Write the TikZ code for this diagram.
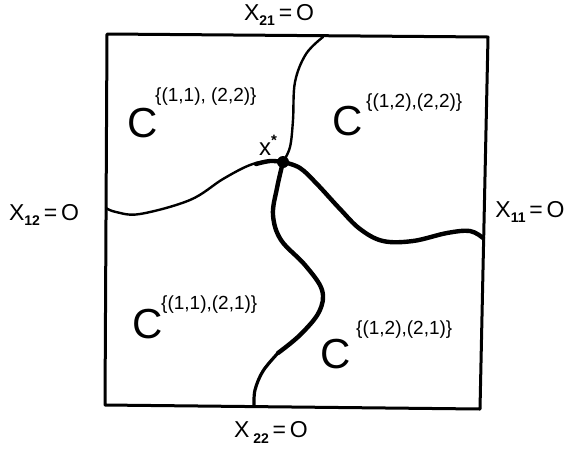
\documentclass[tikz,border=0pt]{standalone}
\usepackage{fontspec}
\setmainfont{Liberation Sans}
\tikzset{
  frame/.style={line width=3pt, line join=round, line cap=round},
  thinb/.style={line width=2.4pt, line cap=round},
  boldb/.style={line width=4.4pt, line cap=round},
  axlabel/.style={inner sep=0pt, font=\fontsize{23}{23}\selectfont},
  bigc/.style={inner sep=0pt, anchor=south west, font=\fontsize{42}{42}\selectfont},
  supc/.style={inner sep=0pt, anchor=west, font=\fontsize{19}{19}\selectfont},
}
\begin{document}
\begin{tikzpicture}[x=1pt,y=-1pt]
\useasboundingbox (0,0) rectangle (567,448);
% frame corners
\coordinate (tl) at (107,34);
\coordinate (tr) at (488,37);
\coordinate (br) at (480,409);
\coordinate (bl) at (105,405);
\draw[frame] (tl) -- (tr) -- (br) -- (bl) -- cycle;
% boundary ends
\coordinate (xs) at (283,162);
\coordinate (etop) at (323,37);
\coordinate (eleft) at (106,208);
\coordinate (eright) at (483,238);
\coordinate (ebot) at (254,406);
% thin curves
\draw[thinb] plot[smooth, tension=0.6] coordinates {(eleft) (116,212) (140,214) (190,200) (223,179) (250,165) (270,161) (xs)};
\draw[boldb] plot[smooth, tension=0.6] coordinates {(256,164) (270,161) (xs)};
\draw[thinb] plot[smooth, tension=0.6] coordinates {(xs) (290,147) (293,120) (295,82) (306,54) (etop)};
% bold curves
\draw[boldb] plot[smooth, tension=0.6] coordinates {(xs) (300,168) (317,184) (340,209) (360,229) (383,241) (413,241) (447,233) (470,231) (eright)};
\draw[boldb] plot[smooth, tension=0.6] coordinates {(xs) (277,188) (273,215) (281,240) (305,265) (322,290) (319,312) (300,335) (278,353)};
\draw[line width=3.2pt, line cap=round] plot[smooth, tension=0.6] coordinates {(278,353) (263,371) (255,390) (ebot)};
\fill (xs) circle (6pt);
\node[inner sep=0pt, font=\fontsize{24}{24}\selectfont] (xstar) at (268,145) {x\raisebox{0.8ex}{\fontsize{15}{15}\selectfont\bfseries *}};
% axis labels
\node[axlabel] (l21) at (279,15) {X\raisebox{-0.45ex}{\fontsize{14}{14}\selectfont\bfseries 21}\,=\,O};
\node[axlabel] (l12) at (44,215) {X\raisebox{-0.45ex}{\fontsize{14}{14}\selectfont\bfseries 12}\,=\,O};
\node[axlabel] (l11) at (530,212) {X\raisebox{-0.45ex}{\fontsize{14}{14}\selectfont\bfseries 11}\,=\,O};
\node[axlabel] (l22) at (271,432) {X\,\raisebox{-0.5ex}{\fontsize{14}{14}\selectfont\bfseries 22}\,=\,O};
% region labels
\node[bigc] (c1) at (127,138) {C};
\node[supc] (s1) at (155,97) {\{(1,1), (2,2)\}};
\node[bigc] (c2) at (332,136) {C};
\node[supc] (s2) at (366,103) {\{(1,2),(2,2)\}};
\node[bigc] (c3) at (132,339) {C};
\node[supc] (s3) at (161,305) {\{(1,1),(2,1)\}};
\node[bigc] (c4) at (320,369) {C};
\node[supc] (s4) at (356,330) {\{(1,2),(2,1)\}};
\end{tikzpicture}
\end{document}
